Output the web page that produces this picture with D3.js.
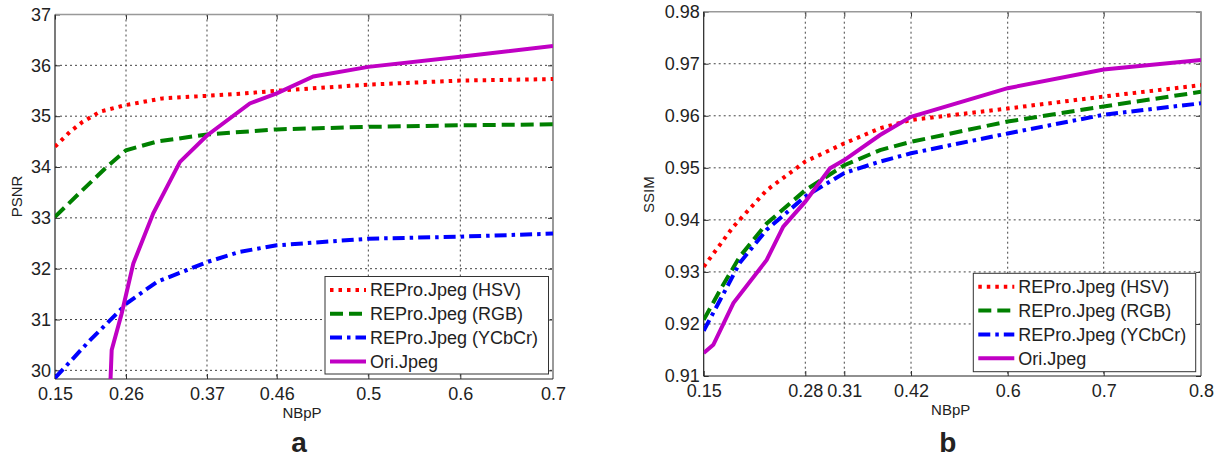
<!DOCTYPE html>
<html>
<head>
<meta charset="utf-8">
<script src="https://cdn.jsdelivr.net/npm/d3@7"></script>
<style>
    body { margin: 0; background: #fff; }
    svg { display: block; }
    text { font-family: "Liberation Sans", Arial, sans-serif; fill: #222; }
</style>
</head>
<body>
<div id="chart"></div>
<script>
// ---- data ----
const seriesNames = ["REPro.Jpeg (HSV)", "REPro.Jpeg (RGB)", "REPro.Jpeg (YCbCr)", "Ori.Jpeg"];

// panel a: PSNR vs NBpP
const xTicksA = [0.15, 0.26, 0.37, 0.46, 0.5, 0.6, 0.7];
const yTicksA = [30, 31, 32, 33, 34, 35, 36, 37];
const psnrHSV = [[0.15, 34.40], [0.173, 34.69], [0.193, 34.89], [0.22, 35.09], [0.26, 35.22], [0.31, 35.35],
    [0.37, 35.40], [0.42, 35.45], [0.46, 35.50], [0.5, 35.62], [0.6, 35.70], [0.7, 35.73]];
const psnrRGB = [[0.15, 33.02], [0.193, 33.55], [0.23, 34.0], [0.26, 34.33], [0.302, 34.50], [0.37, 34.64],
    [0.46, 34.74], [0.5, 34.79], [0.6, 34.82], [0.7, 34.84]];
const psnrYCbCr = [[0.15, 29.85], [0.204, 30.59], [0.256, 31.25], [0.26, 31.31], [0.302, 31.74], [0.37, 32.13],
    [0.412, 32.33], [0.46, 32.46], [0.5, 32.59], [0.6, 32.63], [0.7, 32.69]];
const psnrOri = [[0.235, 29.5], [0.2378, 30.40], [0.2533, 31.12], [0.2699, 32.10], [0.297, 33.09], [0.3333, 34.10],
    [0.37, 34.62], [0.4253, 35.25], [0.46, 35.45], [0.476, 35.78], [0.5, 35.97], [0.6, 36.17], [0.7, 36.38]];

// panel b: SSIM vs NBpP
const xTicksB = [0.15, 0.28, 0.31, 0.42, 0.6, 0.7, 0.8];
const yTicksB = [0.91, 0.92, 0.93, 0.94, 0.95, 0.96, 0.97, 0.98];
const ssimHSV = [[0.15, 0.9310], [0.188, 0.9387], [0.2306, 0.9457], [0.28, 0.9512], [0.31, 0.9547], [0.369, 0.9576],
    [0.42, 0.9592], [0.6, 0.9614], [0.7, 0.9637], [0.8, 0.9659]];
const ssimRGB = [[0.15, 0.9208], [0.171, 0.9265], [0.196, 0.9329], [0.2306, 0.9393], [0.28, 0.9457], [0.31, 0.9505],
    [0.369, 0.9534], [0.42, 0.9550], [0.6, 0.9589], [0.7, 0.9618], [0.8, 0.9646]];
const ssimYCbCr = [[0.15, 0.9187], [0.171, 0.9246], [0.196, 0.9317], [0.2306, 0.9381], [0.28, 0.9445], [0.31, 0.9490],
    [0.369, 0.9512], [0.42, 0.9528], [0.6, 0.9566], [0.7, 0.9602], [0.8, 0.9624]];
const ssimOri = [[0.15, 0.9144], [0.1623, 0.9160], [0.188, 0.9240], [0.2306, 0.9323], [0.2518, 0.9387], [0.28, 0.9435],
    [0.299, 0.9499], [0.31, 0.9515], [0.369, 0.9563], [0.42, 0.9598], [0.6, 0.9653], [0.7, 0.9689], [0.8, 0.9707]];

// line styles for the four series
const styles = [
    { color: "#ff0000", dash: "3.5,5", width: 4 },
    { color: "#008000", dash: "13,6", width: 4 },
    { color: "#0000ff", dash: "12,5,3.5,5", width: 4 },
    { color: "#c000c4", dash: null, width: 4 }
];

const svg = d3.select("#chart").append("svg")
    .attr("width", 1221)
    .attr("height", 459);

function drawPanel(cfg) {
    const w = cfg.right - cfg.left, h = cfg.bottom - cfg.top;
    const g = svg.append("g").attr("transform", `translate(${cfg.left},${cfg.top})`);

    // uneven tick spacing as in the original figure
    const x = d3.scaleLinear().domain(cfg.xTicks).range(cfg.xFrac.map(f => f * w));
    const y = d3.scaleLinear().domain(cfg.yDomain).range([h, 0]);

    const clipId = "clip-" + cfg.id;
    g.append("clipPath").attr("id", clipId)
        .append("rect").attr("width", w).attr("height", h);

    // grid
    g.append("g").selectAll("line").data(cfg.xTicks.slice(1, -1)).join("line")
        .attr("x1", d => x(d)).attr("x2", d => x(d)).attr("y1", 0).attr("y2", h)
        .attr("stroke", "#444").attr("stroke-width", 1).attr("stroke-dasharray", "2,3");
    g.append("g").selectAll("line").data(cfg.yTicks.filter(d => y(d) > 1 && y(d) < h - 1)).join("line")
        .attr("x1", 0).attr("x2", w).attr("y1", d => y(d)).attr("y2", d => y(d))
        .attr("stroke", "#444").attr("stroke-width", 1).attr("stroke-dasharray", "2,3");

    // axes with inward ticks
    const xAxis = g.append("g").attr("transform", `translate(0,${h})`)
        .call(d3.axisBottom(x).tickValues(cfg.xTicks).tickSizeInner(-5).tickSizeOuter(0).tickPadding(8)
            .tickFormat(d => String(d)));
    const yAxis = g.append("g")
        .call(d3.axisLeft(y).tickValues(cfg.yTicks).tickSizeInner(-5).tickSizeOuter(0).tickPadding(4)
            .tickFormat(cfg.yFormat));
    g.append("g").call(d3.axisTop(x).tickValues(cfg.xTicks).tickSizeInner(-5).tickSizeOuter(0).tickFormat(""));
    g.append("g").attr("transform", `translate(${w},0)`)
        .call(d3.axisRight(y).tickValues(cfg.yTicks).tickSizeInner(-5).tickSizeOuter(0).tickFormat(""));
    svg.selectAll(".domain").remove();
    [xAxis, yAxis].forEach(a => a.selectAll("text")
        .style("font-size", "18px").attr("fill", "#222"));
    g.selectAll(".tick line").attr("stroke", "#333");

    // box
    g.append("line").attr("x1", 0).attr("x2", w).attr("y1", 0).attr("y2", 0).attr("stroke", "#999").attr("stroke-width", 1.5);
    g.append("line").attr("x1", w).attr("x2", w).attr("y1", 0).attr("y2", h).attr("stroke", "#999").attr("stroke-width", 2);
    g.append("line").attr("x1", 0).attr("x2", 0).attr("y1", 0).attr("y2", h).attr("stroke", "#222").attr("stroke-width", 1.2);
    g.append("line").attr("x1", 0).attr("x2", w).attr("y1", h).attr("y2", h).attr("stroke", "#222").attr("stroke-width", 1.2);

    // series
    const line = d3.line().x(d => x(d[0])).y(d => y(d[1]));
    g.append("g").attr("clip-path", `url(#${clipId})`)
        .selectAll("path").data(cfg.series).join("path")
        .attr("d", line)
        .attr("fill", "none")
        .attr("stroke", (d, i) => styles[i].color)
        .attr("stroke-width", (d, i) => styles[i].width)
        .attr("stroke-dasharray", (d, i) => styles[i].dash);

    // axis labels
    g.append("text")
        .attr("transform", `translate(${cfg.yLabelX},${cfg.yLabelY}) rotate(-90)`)
        .attr("text-anchor", "middle").attr("dy", "0.35em")
        .style("font-size", "15px").text(cfg.yLabel);
    g.append("text")
        .attr("x", cfg.xLabelX).attr("y", h + 39)
        .attr("text-anchor", "middle")
        .style("font-size", "15px").text("NBpP");
    g.append("text")
        .attr("x", cfg.panelX).attr("y", 452 - cfg.top)
        .attr("text-anchor", "middle")
        .style("font-size", "28px").style("font-weight", "bold").attr("fill", "#000")
        .text(cfg.panel);

    // legend
    const lg = g.append("g").attr("transform", `translate(${cfg.legend.x},${cfg.legend.y})`);
    lg.append("rect").attr("width", cfg.legend.w).attr("height", cfg.legend.h)
        .attr("fill", "#fff").attr("stroke", "#333").attr("stroke-width", 1);
    const rows = lg.selectAll("g.row").data(seriesNames).join("g")
        .attr("class", "row")
        .attr("transform", (d, i) => `translate(0,${13.5 + i * 23.8})`);
    rows.append("line")
        .attr("x1", 5).attr("x2", 41).attr("y1", 0).attr("y2", 0)
        .attr("stroke", (d, i) => styles[i].color)
        .attr("stroke-width", (d, i) => styles[i].width)
        .attr("stroke-dasharray", (d, i) => styles[i].dash);
    rows.append("text")
        .attr("x", 45).attr("dy", "0.35em")
        .style("font-size", "18px").text(d => d);
}

drawPanel({
    id: "a", panel: "a",
    left: 55, right: 553, top: 14.5, bottom: 379,
    xTicks: xTicksA, xFrac: [0, 0.1426, 0.3052, 0.4452, 0.6292, 0.8139, 1],
    yTicks: yTicksA, yDomain: [29.83, 37], yFormat: d3.format("d"),
    series: [psnrHSV, psnrRGB, psnrYCbCr, psnrOri],
    yLabel: "PSNR", yLabelX: -38, yLabelY: 182,
    xLabelX: 247, panelX: 244,
    legend: { x: 270, y: 262, w: 223.5, h: 97.5 }
});

drawPanel({
    id: "b", panel: "b",
    left: 703.7, right: 1201, top: 11.7, bottom: 376,
    xTicks: xTicksB, xFrac: [0, 0.2043, 0.2827, 0.4169, 0.6113, 0.8043, 1],
    yTicks: yTicksB, yDomain: [0.91, 0.98], yFormat: d3.format(".2f"),
    series: [ssimHSV, ssimRGB, ssimYCbCr, ssimOri],
    yLabel: "SSIM", yLabelX: -55, yLabelY: 183,
    xLabelX: 247, panelX: 244,
    legend: { x: 269.6, y: 261.6, w: 222.4, h: 98.4 }
});
</script>
</body>
</html>
